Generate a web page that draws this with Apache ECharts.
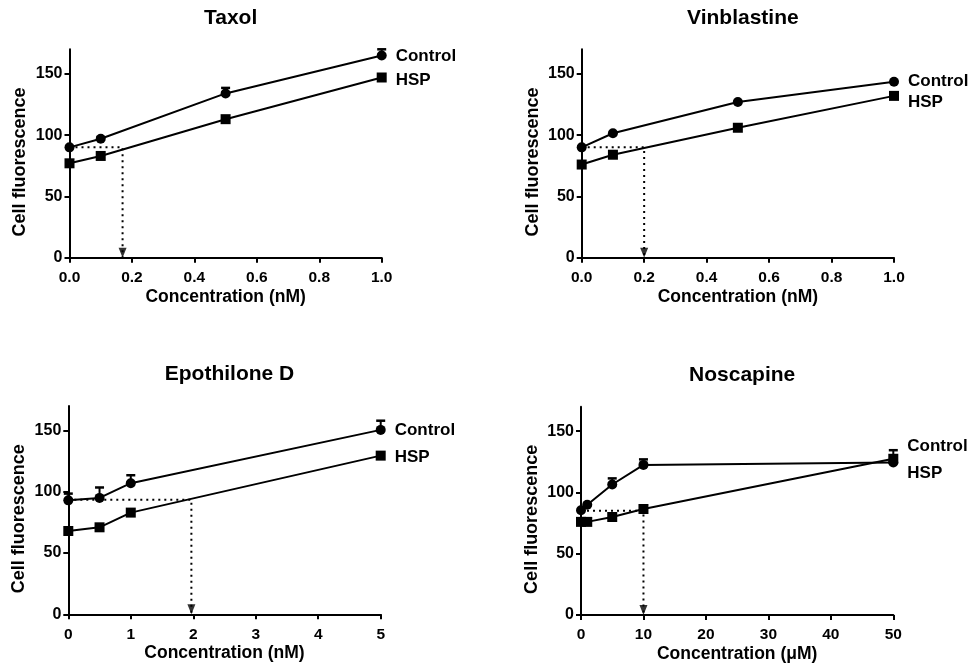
<!DOCTYPE html>
<html>
<head>
<meta charset="utf-8">
<script src="https://cdn.jsdelivr.net/npm/echarts@6/dist/echarts.min.js"></script>
<style>
html,body{margin:0;padding:0;background:#fff;}
#c{width:971px;height:669px;}
</style>
</head>
<body>
<div id="c"></div>
<script>
// ---- Data ----
const panelTitles = ['Taxol', 'Vinblastine', 'Epothilone D', 'Noscapine'];
const xAxisNames = ['Concentration (nM)', 'Concentration (nM)', 'Concentration (nM)', 'Concentration (\u03bcM)'];
const yAxisName = 'Cell fluorescence';
const seriesNames = ['Control', 'HSP'];
const yTicks = [0, 50, 100, 150];

const taxolX = [0, 0.1, 0.5, 1.0];
const taxolControl = [90, 97, 134, 165];
const taxolControlErr = [1, 1, 4.5, 5];
const taxolHSP = [77, 83, 113, 147];
const taxolHSPErr = [0, 0, 0, 0];
const taxolRef = [0.17, 90];

const vinX = [0, 0.1, 0.5, 1.0];
const vinControl = [90, 101.5, 127, 143.5];
const vinControlErr = [0, 0, 0, 0];
const vinHSP = [76, 84, 106, 132];
const vinHSPErr = [0, 0, 0, 0];
const vinRef = [0.2, 90];

const epoX = [0, 0.5, 1, 5];
const epoControl = [93, 95, 107, 150.5];
const epoControlErr = [5.5, 8.5, 6.5, 7.5];
const epoHSP = [68, 71, 83, 129.5];
const epoHSPErr = [0, 0, 0, 0];
const epoRef = [1.97, 93.5];

const nosX = [0, 1, 5, 10, 50];
const nosControl = [85.5, 90, 106.5, 122.5, 124.5];
const nosControlErr = [0, 0, 5, 4.5, 0];
const nosHSP = [76, 76, 80, 86.5, 127.5];
const nosHSPErr = [0, 0, 0, 0, 7];
const nosRef = [10, 85];

const xRanges = [[0, 1, 0.2], [0, 1, 0.2], [0, 5, 1], [0, 50, 10]];

// ---- Layout (not data) ----
const grids = [
  {left: 69.5, top: 49.3, width: 312.2, height: 208.4},
  {left: 581.7, top: 49.3, width: 312.3, height: 208.4},
  {left: 68.3, top: 406, width: 312.4, height: 208.3},
  {left: 581, top: 406.7, width: 312.3, height: 208.3}
];
const labelOffsets = [
  [[0, 1], [0, 3]],
  [[0, 0], [0, 6]],
  [[0, 0], [0, 2]],
  [[0, -16], [0, 15]]
];

const panels = [
  {x: taxolX, c: taxolControl, ce: taxolControlErr, h: taxolHSP, he: taxolHSPErr, ref: taxolRef},
  {x: vinX, c: vinControl, ce: vinControlErr, h: vinHSP, he: vinHSPErr, ref: vinRef},
  {x: epoX, c: epoControl, ce: epoControlErr, h: epoHSP, he: epoHSPErr, ref: epoRef},
  {x: nosX, c: nosControl, ce: nosControlErr, h: nosHSP, he: nosHSPErr, ref: nosRef}
];

const FONT = 'Liberation Sans, Arial, sans-serif';

const chart = echarts.init(document.getElementById('c'), null, {renderer: 'canvas'});

const titles = [], xAxes = [], yAxes = [], series = [];

function errRender(params, api) {
  const x = api.value(0), y = api.value(1), e = api.value(2);
  if (!e) return null;
  const p0 = api.coord([x, y]);
  const p1 = api.coord([x, y + e]);
  return {
    type: 'group',
    children: [
      {type: 'line', shape: {x1: p0[0], y1: p0[1], x2: p1[0], y2: p1[1]}, style: {stroke: '#000', lineWidth: 2}},
      {type: 'line', shape: {x1: p1[0] - 4.5, y1: p1[1], x2: p1[0] + 4.5, y2: p1[1]}, style: {stroke: '#000', lineWidth: 2.5}}
    ]
  };
}

panels.forEach((p, i) => {
  const g = grids[i];
  titles.push({
    text: panelTitles[i],
    left: g.left + g.width / 2,
    top: g.top - 47,
    textAlign: 'center',
    textStyle: {fontFamily: FONT, fontWeight: 'bold', fontSize: 21, color: '#000'}
  });
  const xr = xRanges[i];
  xAxes.push({
    type: 'value', gridIndex: i, min: xr[0], max: xr[1], interval: xr[2],
    name: xAxisNames[i], nameLocation: 'middle', nameGap: 30,
    nameTextStyle: {fontFamily: FONT, fontWeight: 'bold', fontSize: 17.5, color: '#000'},
    axisLine: {show: true, onZero: false, lineStyle: {color: '#000', width: 2}},
    axisTick: {show: true, length: 5, inside: false, lineStyle: {color: '#000', width: 2}},
    axisLabel: {
      fontFamily: FONT, fontWeight: 'bold', fontSize: 15.5, color: '#000', margin: 12,
      formatter: xr[2] < 1 ? (v => v.toFixed(1)) : (v => String(v))
    },
    splitLine: {show: false}
  });
  yAxes.push({
    type: 'value', gridIndex: i, min: 0, max: 170,
    name: yAxisName, nameLocation: 'middle', nameGap: 40, nameRotate: 90,
    nameTextStyle: {fontFamily: FONT, fontWeight: 'bold', fontSize: 18, color: '#000', padding: [0, 17, 0, 0]},
    axisLine: {show: true, onZero: false, lineStyle: {color: '#000', width: 2}},
    axisTick: {show: true, length: 5, inside: false, customValues: yTicks, lineStyle: {color: '#000', width: 2}},
    axisLabel: {fontFamily: FONT, fontWeight: 'bold', fontSize: 16, color: '#000', margin: 7, customValues: yTicks},
    splitLine: {show: false}
  });

  // error bars
  series.push({
    type: 'custom', xAxisIndex: i, yAxisIndex: i, z: 1, silent: true,
    renderItem: errRender,
    data: p.x.map((x, k) => [x, p.c[k], p.ce[k]])
  });
  series.push({
    type: 'custom', xAxisIndex: i, yAxisIndex: i, z: 1, silent: true,
    renderItem: errRender,
    data: p.x.map((x, k) => [x, p.h[k], p.he[k]])
  });

  // reference dotted line
  series.push({
    type: 'line', xAxisIndex: i, yAxisIndex: i, z: 1, silent: true,
    symbol: 'none', animation: false,
    lineStyle: {color: '#000', width: 2, type: [2, 4]},
    data: [[0, p.ref[1]], [p.ref[0], p.ref[1]], [p.ref[0], 0]]
  });
  series.push({
    type: 'scatter', xAxisIndex: i, yAxisIndex: i, z: 3, silent: true,
    symbol: 'triangle', symbolRotate: 180, symbolSize: [8, 10], symbolOffset: [0, -5],
    itemStyle: {color: '#000'}, animation: false,
    data: [[p.ref[0], 0]]
  });

  // main series
  [['c', 'circle', 10], ['h', 'rect', 10]].forEach((s, k) => {
    series.push({
      type: 'line', name: seriesNames[k], xAxisIndex: i, yAxisIndex: i, z: 2,
      symbol: s[1], symbolSize: s[2], showSymbol: true, clip: false, animation: false,
      lineStyle: {color: '#000', width: 2},
      itemStyle: {color: '#000'},
      data: p.x.map((x, j) => [x, p[s[0]][j]]),
      endLabel: {
        show: true, formatter: seriesNames[k], distance: 14,
        offset: labelOffsets[i][k],
        fontFamily: FONT, fontWeight: 'bold', fontSize: 17, color: '#000'
      }
    });
  });
});

chart.setOption({
  animation: false,
  backgroundColor: '#fff',
  title: titles,
  grid: grids.map(g => ({left: g.left, top: g.top, width: g.width, height: g.height, containLabel: false})),
  xAxis: xAxes,
  yAxis: yAxes,
  series: series
});
</script>
</body>
</html>
